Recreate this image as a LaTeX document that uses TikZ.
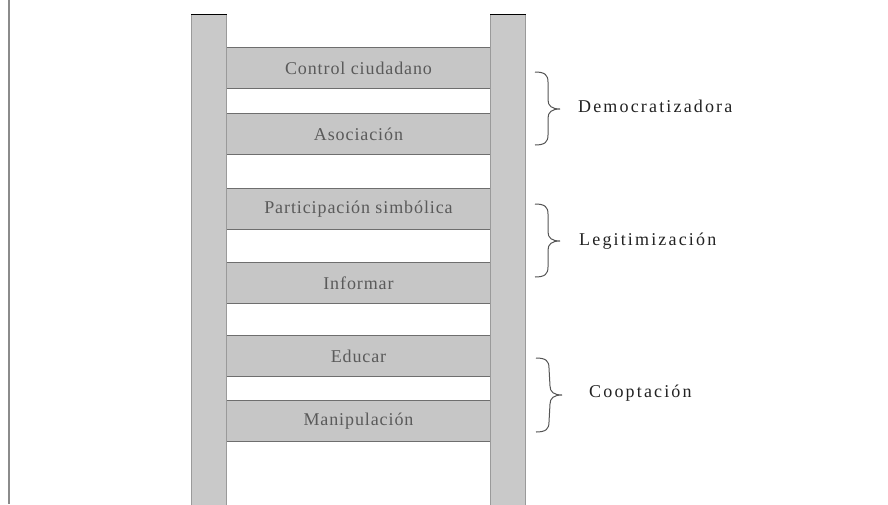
\documentclass[tikz,border=0pt]{standalone}
\usepackage{fontspec}
\usetikzlibrary{calc}
\setmainfont{Liberation Serif}
\newfontfamily\rungfont[LetterSpace=5]{Liberation Serif}
\newfontfamily\labfont[LetterSpace=12]{Liberation Serif}
\definecolor{railfill}{HTML}{C9C9C9}
\definecolor{rungfill}{HTML}{C6C6C6}
\definecolor{railedge}{HTML}{9A9A9A}
\definecolor{rungedge}{HTML}{6E6E6E}
\definecolor{rungtext}{HTML}{5A5A5A}
\definecolor{labtext}{HTML}{222222}
\definecolor{bracecol}{HTML}{555555}
\tikzset{
  rail/.style={fill=railfill, draw=railedge, line width=0.8pt, minimum width=35pt, anchor=north, inner sep=0pt},
  rung/.style={fill=rungfill, draw=none, minimum width=263pt, minimum height=41pt, inner sep=0pt,
    font=\rungfont\fontsize{18}{18}\selectfont, text=rungtext},
  rungline/.style={draw=rungedge, line width=1pt},
  lab/.style={anchor=west, font=\labfont\fontsize{18}{18}\selectfont, text=labtext, inner sep=0pt},
  bracepath/.style={draw=bracecol, line width=1pt}
}
\begin{document}
\begin{tikzpicture}[x=1pt,y=-1pt]
\useasboundingbox (0,0) rectangle (888,504);
\fill[white] (0,0) rectangle (888,504);
% left margin line
\draw[color=railedge!90!black, line width=1.5pt] (9,0) -- (9,504);
% rungs
\node[rung] (r1) at (358.5,68) {Control ciudadano};
\node[rung] (r2) at (358.5,134) {Asociación};
\node[rung] (r3) at (358.5,209) {Participación simbólica};
\node[rung] (r4) at (358.5,283) {Informar};
\node[rung] (r5) at (358.5,356) {Educar};
\node[rung] (r6) at (358.5,421) {Manipulación};
\foreach \r in {r1,r2,r3,r4,r5,r6}{
  \draw[rungline] (\r.north west) -- (\r.north east);
  \draw[rungline] (\r.south west) -- (\r.south east);
}
% rails
\node[rail, minimum height=495pt] (lrail) at (209,14) {};
\node[rail, minimum height=495pt] (rrail) at (508,14) {};
\draw[black, line width=1pt] (lrail.north west) -- (lrail.north east);
\draw[black, line width=1pt] (rrail.north west) -- (rrail.north east);
% labels
\node[lab] (d) at (578,106) {Democratizadora};
\node[lab] (l) at (579,241) {Legitimización};
\node[lab] (c) at (589,393) {Cooptación};
% braces
\coordinate (b1t) at (535,72); \coordinate (b1m) at (560,109); \coordinate (b1b) at (535,145);
\coordinate (b2t) at (535,204); \coordinate (b2m) at (560,241); \coordinate (b2b) at (535,277);
\coordinate (b3t) at (536,358); \coordinate (b3m) at (562,395); \coordinate (b3b) at (536,432);
\foreach \t/\m/\b in {b1t/b1m/b1b, b2t/b2m/b2b, b3t/b3m/b3b}{
  \draw[bracepath]
    (\t) .. controls ($(\t)+(10,0)$) and ($(\t)+(13,3)$) .. ($(\t)+(13,10)$)
    -- ($(\m)+(-12,-9)$)
    .. controls ($(\m)+(-12,-3)$) and ($(\m)+(-8,0)$) .. (\m)
    .. controls ($(\m)+(-8,0)$) and ($(\m)+(-12,3)$) .. ($(\m)+(-12,9)$)
    -- ($(\b)+(13,-10)$)
    .. controls ($(\b)+(13,-3)$) and ($(\b)+(10,0)$) .. (\b);
}
\end{tikzpicture}
\end{document}
